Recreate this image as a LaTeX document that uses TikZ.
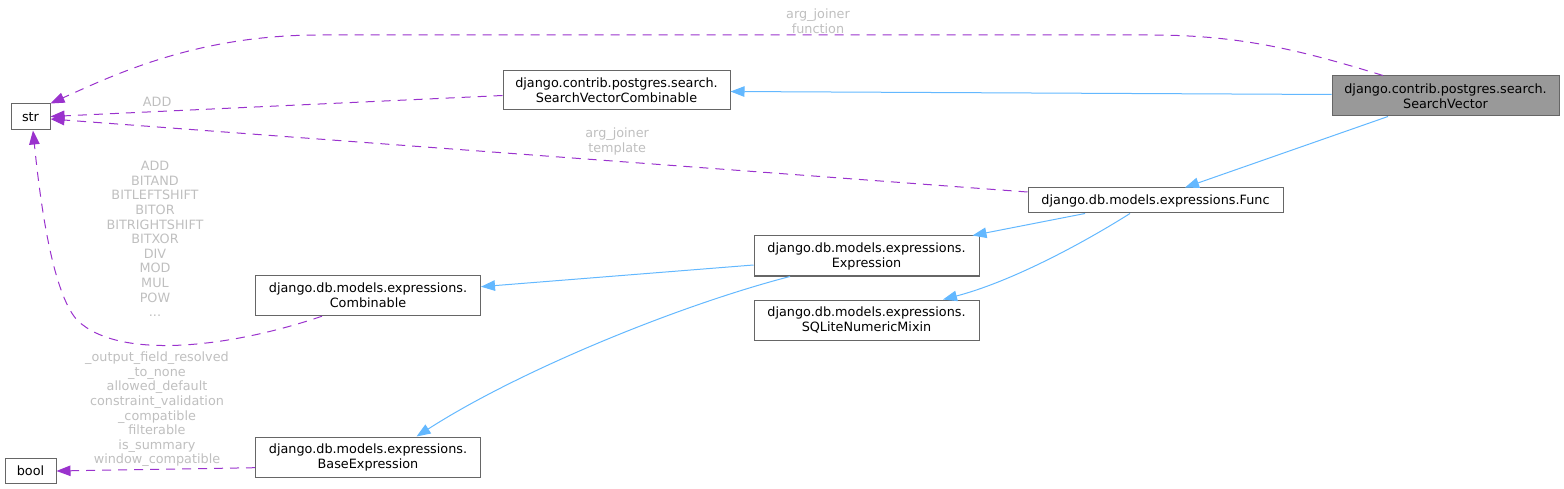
\documentclass[tikz,border=0pt]{standalone}
\usepackage{fontspec}
\setmainfont{DejaVu Sans}
\usetikzlibrary{arrows.meta,positioning,calc}
\definecolor{inhblue}{HTML}{63B8FF}
\definecolor{usepurple}{HTML}{9A32CD}

\begin{document}
\begin{tikzpicture}[x=1pt, y=-1pt, on grid, >={Triangle[length=14pt,width=10.5pt]},
  cls/.style={draw=black!60, fill=white, line width=1pt, align=center, inner sep=0pt,
    minimum width=225pt, minimum height=40pt, font=\fontsize{12.8}{15}\selectfont},
  cur/.style={cls, fill=black!40},
  inh/.style={->, color=inhblue, line width=1pt},
  use/.style={->, color=usepurple, line width=1pt, dash pattern=on 9pt off 7pt},
  lbl/.style={text=black!25, align=center, inner sep=1pt, font=\fontsize{12.8}{14.6}\selectfont}]
\useasboundingbox (0,0) rectangle (1564,489);
\node[cur, minimum width=227pt] (sv) at (1445.5,96) {django.contrib.postgres.search.\\SearchVector};
\node[cls, minimum width=227pt, minimum height=39pt] (svc) [above left=5.5pt and 829pt of sv] {django.contrib.postgres.search.\\SearchVectorCombinable};
\node[cls, minimum width=255pt, minimum height=25pt] (func) [below left=104.5pt and 290pt of sv] {django.db.models.expressions.Func};
\node[cls] (expr) [below left=55.5pt and 289pt of func] {django.db.models.expressions.\\Expression};
\node[cls] (sqlite) [below=64pt of expr] {django.db.models.expressions.\\SQLiteNumericMixin};
\node[cls] (comb) [below left=39.7pt and 498.5pt of expr] {django.db.models.expressions.\\Combinable};
\node[cls] (base) [below=161.3pt of comb] {django.db.models.expressions.\\BaseExpression};
\node[cls, minimum width=39pt, minimum height=26pt] (str) at (30.5,117) {str};
\node[cls, minimum width=51pt, minimum height=25pt] (bool) [below=353.5pt of str] {bool};

% inheritance
\draw[inh] ($(sv.west)+(0,-1.5)$) -- ($(svc.east)+(0,1)$);
\draw[inh] ($(sv.south)+(-57.5,0)$) -- ($(func.north)+(29.5,0)$);
\draw[inh] ($(func.south)+(-70.5,0)$) -- ($(expr.north)+(106,0)$);
\draw[inh] ($(expr.west)+(0,9)$) -- ($(comb.east)+(0,-9)$);
\draw[inh] ($(func.south)+(-25.5,0)$) .. controls (1080,245) and (1010,282) .. ($(sqlite.north)+(76.5,0)$);
\draw[inh] ($(expr.south)+(-76.5,0)$) .. controls (680,305) and (520,370) .. ($(base.north)+(48.5,0)$);

% usage
\draw[use] ($(sv.north)+(-62.5,0)$) .. controls (1300,50) and (1240,35) .. (1150,35)
  -- node[lbl, pos=0.4, above] {arg\_joiner\\function} (320,35) .. controls (200,35) and (120,72) .. (str.north east);
\draw[use] ($(svc.west)+(0,5)$) -- node[lbl, pos=0.764, above=3.5pt] {ADD} ($(str.east)+(0,-0.5)$);
\draw[use] ($(func.west)+(0,-8.5)$) -- node[lbl, pos=0.42, above=5pt] {arg\_joiner\\template} ($(str.east)+(0,2)$);
\draw[use] ($(base.west)+(0,10.7)$) -- ($(bool.east)+(0,0.5)$);
\draw[use] ($(comb.south)+(-46,0)$) .. controls (235,346) and (120,362) .. (77,320)
  .. controls (52,292) and (40,200) .. ($(str.south)+(2.5,0)$);
\node[lbl] (combattr) at (155,239) {ADD\\BITAND\\BITLEFTSHIFT\\BITOR\\BITRIGHTSHIFT\\BITXOR\\DIV\\MOD\\MUL\\POW\\...};
\node[lbl] (baseattr) at (157,409.5) {\_output\_field\_resolved\\\_to\_none\\allowed\_default\\constraint\_validation\\\_compatible\\filterable\\is\_summary\\window\_compatible};
\end{tikzpicture}
\end{document}
